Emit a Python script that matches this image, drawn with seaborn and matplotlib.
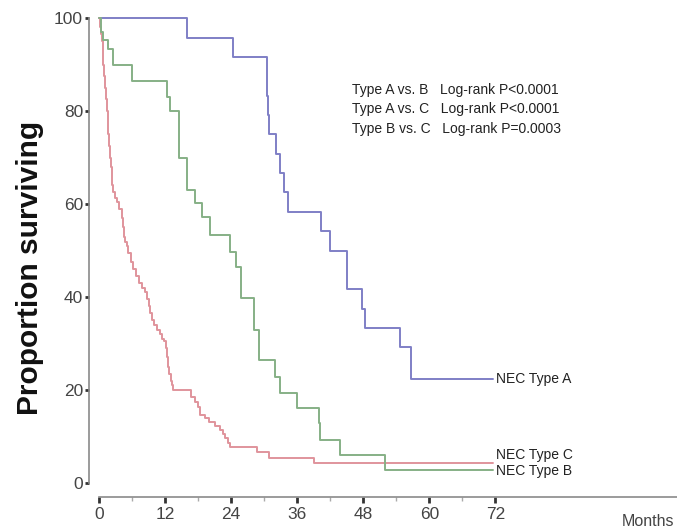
import matplotlib
matplotlib.use("Agg")
import matplotlib.pyplot as plt
import seaborn as sns
import pandas as pd

# ---- data ----
months_a = [0, 16.0, 24.4, 30.5, 30.6, 30.7, 30.8, 32.2, 32.9, 33.6, 34.4, 40.4, 41.9, 45.0, 47.8, 48.4, 54.7, 56.7, 71.5]
surv_a = [100, 95.8, 91.7, 87.5, 83.3, 79.2, 75.0, 70.8, 66.7, 62.5, 58.3, 54.2, 50.0, 41.7, 37.5, 33.3, 29.2, 22.3, 22.3]

months_b = [0, 0.1, 0.2, 0.35, 0.5, 0.65, 0.8, 0.95, 1.1, 1.25, 1.4, 1.55, 1.7, 1.85, 2.0, 2.15, 2.3, 2.45,
            2.6, 2.9, 3.2, 3.6, 4.1, 4.4, 4.6, 4.8, 5.0, 5.3, 5.8, 6.2, 6.7, 7.2, 7.8, 8.4, 8.7, 9.0, 9.3, 9.6,
            10.0, 10.5, 11.0, 11.4, 11.8, 12.1, 12.2, 12.3, 12.4, 12.5, 12.6, 12.8, 13.0, 13.2, 13.5,
            16.8, 17.5, 18.0, 18.4, 19.2, 19.9, 21.0, 22.0, 22.5, 22.9, 23.4, 23.8,
            28.7, 30.8, 39.0, 71.5]
surv_b = [100, 99, 98, 96.5, 95, 92.5, 90, 87.5, 85, 82.5, 80, 77.5, 75, 72.5, 70, 68, 66, 64,
          62.5, 61.3, 60.5, 59, 57, 55, 53, 51.8, 51, 49.5, 47.5, 46, 44.5, 43, 42, 41, 39.5, 38, 36.5, 35,
          34, 33, 32, 31, 30.5, 30, 29, 28, 27, 26, 25, 23.5, 22, 21, 20,
          18.6, 17.5, 16.4, 14.6, 13.9, 13.2, 12.3, 11.4, 10.5, 9.6, 8.7, 7.8,
          6.7, 5.3, 4.2, 4.2]

months_c = [0, 0.3, 0.8, 1.6, 2.5, 6.0, 12.3, 12.9, 14.5, 16.0, 17.4, 18.7, 20.1, 23.8, 24.9, 25.8,
            28.1, 29.0, 32.0, 32.9, 35.9, 39.9, 40.2, 43.8, 52.0, 71.5]
surv_c = [100, 97.0, 95.3, 93.3, 89.9, 86.5, 83.0, 79.9, 69.8, 63.0, 60.2, 57.3, 53.3, 49.7, 46.5, 39.7,
          32.9, 26.5, 22.9, 19.4, 16.1, 12.9, 9.2, 6.0, 2.8, 2.8]

groups = ["NEC Type A", "NEC Type B", "NEC Type C"]
colors = {"NEC Type A": "#7f7fc6", "NEC Type B": "#e0949c", "NEC Type C": "#86b086"}

x_ticks = [0, 12, 24, 36, 48, 60, 72]
x_minor = [6, 18, 30, 42, 54, 66]
y_ticks = [0, 20, 40, 60, 80, 100]

stats_lines = ["Type A vs. B   Log-rank P<0.0001",
               "Type A vs. C   Log-rank P<0.0001",
               "Type B vs. C   Log-rank P=0.0003"]

df = pd.concat([
    pd.DataFrame({"month": months_a, "surv": surv_a, "group": groups[0]}),
    pd.DataFrame({"month": months_b, "surv": surv_b, "group": groups[1]}),
    pd.DataFrame({"month": months_c, "surv": surv_c, "group": groups[2]}),
], ignore_index=True)

sns.set_theme(style="white")
plt.rcParams["font.family"] = ["Liberation Sans", "DejaVu Sans"]

fig = plt.figure(figsize=(6.77, 5.29), dpi=100)
W, H = 677, 529
ax = fig.add_axes([99 / W, (H - 483) / H, (677 - 99) / W, (483 - 18) / H])

for g in groups:
    sub = df[df["group"] == g]
    sns.lineplot(data=sub, x="month", y="surv", color=colors[g], drawstyle="steps-post",
                 estimator=None, sort=False, linewidth=1.4, ax=ax, legend=False)
for ln in ax.lines:
    ln.set_clip_on(False)

ax.set_xlim(0, 105)
ax.set_ylim(0, 100)

for side in ["top", "right"]:
    ax.spines[side].set_visible(False)
ax.spines["left"].set_position(("outward", 7))
ax.spines["bottom"].set_position(("outward", 10))
for side in ["left", "bottom"]:
    ax.spines[side].set_color("#8a8a8a")
    ax.spines[side].set_linewidth(1.2)

ax.set_xticks(x_ticks)
ax.set_xticks(x_minor, minor=True)
ax.set_yticks(y_ticks)
ax.tick_params(axis="both", which="major", direction="out", length=4, width=2,
               color="#333333", labelsize=12.5, labelcolor="#444444")
ax.tick_params(axis="x", which="major", bottom=True, pad=3)
ax.tick_params(axis="y", which="major", left=True, length=3, pad=1.5)
ax.tick_params(axis="x", which="minor", bottom=True, direction="out", length=3, width=1,
               color="#aaaaaa")

ax.set_xlabel("")
ax.set_ylabel("Proportion surviving", fontsize=21.5, fontweight="bold", color="#111111")
ax.yaxis.set_label_coords(-0.12, 0.462)
ax.yaxis.label.set_va("center")

ax.text(99.8, -8.2, "Months", fontsize=11.5, color="#444444", ha="center", va="center",
        clip_on=False)

for i, s in enumerate(stats_lines):
    ax.text(46.0, 84.5 - i * 4.15, s, fontsize=10, color="#222222", ha="left", va="center")

label_pos = {"NEC Type A": 22.3, "NEC Type C": 6.0, "NEC Type B": 2.6}
for g in groups:
    ax.text(72.2, label_pos[g], g, fontsize=10, color="#222222", ha="left", va="center")

fig.savefig("out.png", dpi=100)
